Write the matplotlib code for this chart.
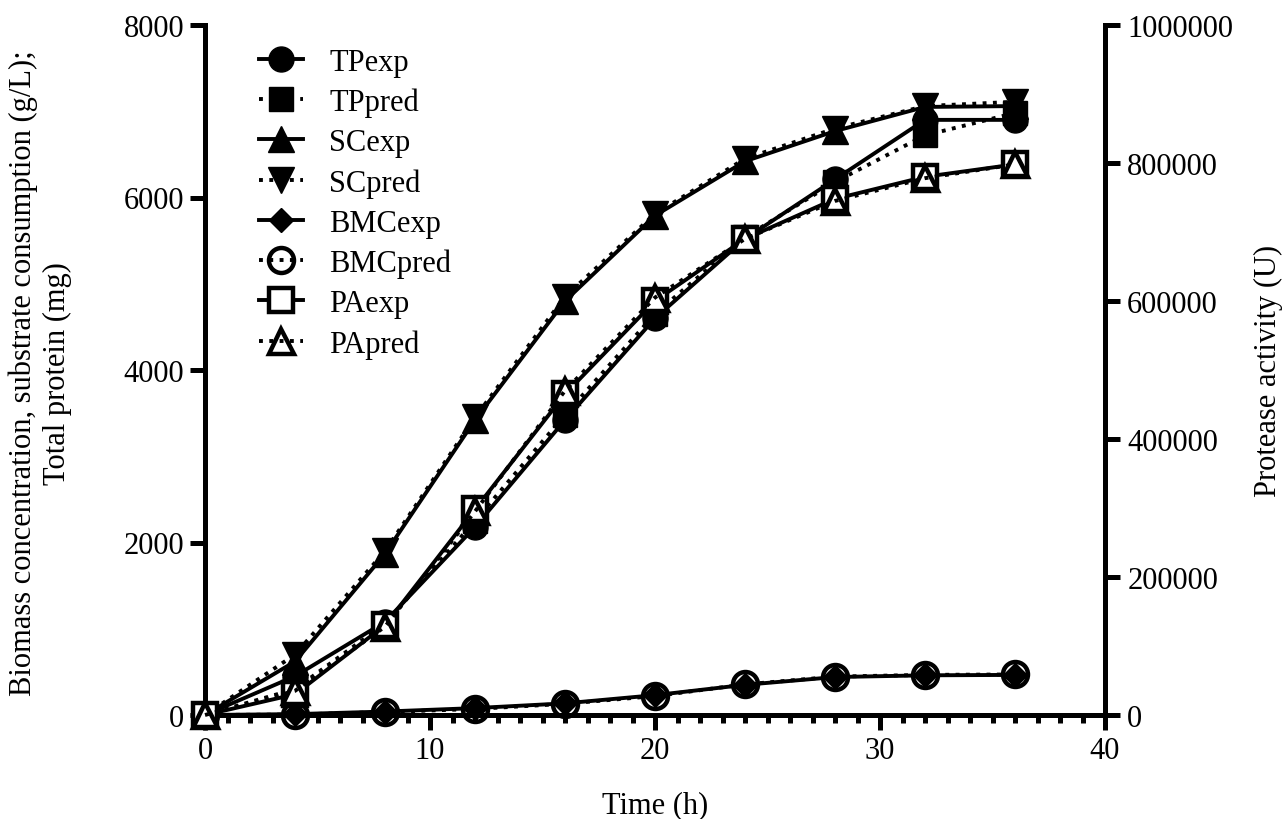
import matplotlib
matplotlib.use("Agg")
import matplotlib.pyplot as plt
from matplotlib.ticker import MultipleLocator

plt.rcParams['font.family'] = ['Liberation Serif', 'DejaVu Serif']
FS = 22
plt.rcParams['font.size'] = FS

time_h = [0, 4, 8, 12, 16, 20, 24, 28, 32, 36]
tp_exp = [0, 450, 1080, 2180, 3420, 4600, 5520, 6210, 6900, 6900]
tp_pred = [0, 300, 1060, 2250, 3480, 4650, 5540, 6180, 6720, 6980]
sc_exp = [0, 620, 1870, 3420, 4800, 5790, 6420, 6770, 7050, 7060]
sc_pred = [0, 700, 1900, 3450, 4850, 5810, 6450, 6800, 7060, 7110]
bmc_exp = [0, 10, 40, 80, 135, 230, 350, 440, 460, 465]
bmc_pred = [0, 5, 35, 70, 130, 220, 355, 445, 465, 470]
pa_exp = [0, 30000, 130000, 298000, 465000, 600000, 690000, 748000, 780000, 798000]
pa_pred = [0, 35000, 128000, 295000, 470000, 605000, 690000, 745000, 778000, 798000]

fig = plt.figure(figsize=(12.84, 8.2), dpi=100)
ax = fig.add_axes([205/1284, 104/820, 900/1284, 690/820])
ax2 = ax.twinx()

LW = 2.8
MS = 18
common = dict(color='black', clip_on=False)

h1, = ax.plot(time_h, tp_exp, '-', marker='o', ms=MS, lw=LW, mfc='black', mec='black', label='TPexp', **common)
h2, = ax.plot(time_h, tp_pred, ':', marker='s', ms=MS-1, lw=LW, mfc='black', mec='black', label='TPpred', **common)
h3, = ax.plot(time_h, sc_exp, '-', marker='^', ms=MS+1, lw=LW, mfc='black', mec='black', label='SCexp', **common)
h4, = ax.plot(time_h, sc_pred, ':', marker='v', ms=MS+1, lw=LW, mfc='black', mec='black', label='SCpred', **common)
h5, = ax.plot(time_h, bmc_exp, '-', marker='D', ms=12.5, lw=LW, mfc='black', mec='black', label='BMCexp', zorder=3, **common)
h6, = ax.plot(time_h, bmc_pred, ':', marker='o', ms=MS, lw=LW, mfc='none', mec='black', mew=3.2, label='BMCpred', zorder=3, **common)
h7, = ax2.plot(time_h, pa_exp, '-', marker='s', ms=MS-1, lw=LW, mfc='white', mec='black', mew=3.2, label='PAexp', **common)
h8, = ax2.plot(time_h, pa_pred, ':', marker='^', ms=MS, lw=LW, mfc='none', mec='black', mew=3.2, label='PApred', **common)

ax.set_xlim(0, 40)
ax.set_ylim(0, 8000)
ax2.set_ylim(0, 1000000)
ax.set_xticks([0, 10, 20, 30, 40])
ax.xaxis.set_minor_locator(MultipleLocator(1))
ax.set_yticks([0, 2000, 4000, 6000, 8000])
ax2.set_yticks([0, 200000, 400000, 600000, 800000, 1000000])
ax2.set_yticklabels(['0', '200000', '400000', '600000', '800000', '1000000'])

SW = 3.6
for a in (ax, ax2):
    for s in a.spines.values():
        s.set_linewidth(SW)
    a.spines['top'].set_visible(False)
ax.spines['right'].set_visible(False)
ax2.spines['left'].set_visible(False)
ax2.spines['bottom'].set_visible(False)

ax.tick_params(axis='both', which='major', length=11, width=SW, pad=4, labelsize=FS)
ax.tick_params(axis='x', which='minor', length=6, width=SW)
ax2.tick_params(axis='y', which='major', length=11, width=SW, pad=5, labelsize=FS)

ax.set_xlabel('Time (h)', fontsize=FS, labelpad=18)
ax.set_ylabel('Biomass concentration, substrate consumption (g/L);\nTotal protein (mg)', fontsize=FS)
ax.yaxis.set_label_coords(-0.148, 0.497)
ax2.set_ylabel('Protease activity (U)', fontsize=FS, labelpad=15)

leg = ax2.legend(handles=[h1, h2, h3, h4, h5, h6, h7, h8], loc='upper left',
                 bbox_to_anchor=(0.053, 0.976), frameon=False, fontsize=FS,
                 handlelength=1.45, handletextpad=0.85, labelspacing=0.36,
                 borderpad=0.2, borderaxespad=0)

fig.savefig('out.png', dpi=100)
